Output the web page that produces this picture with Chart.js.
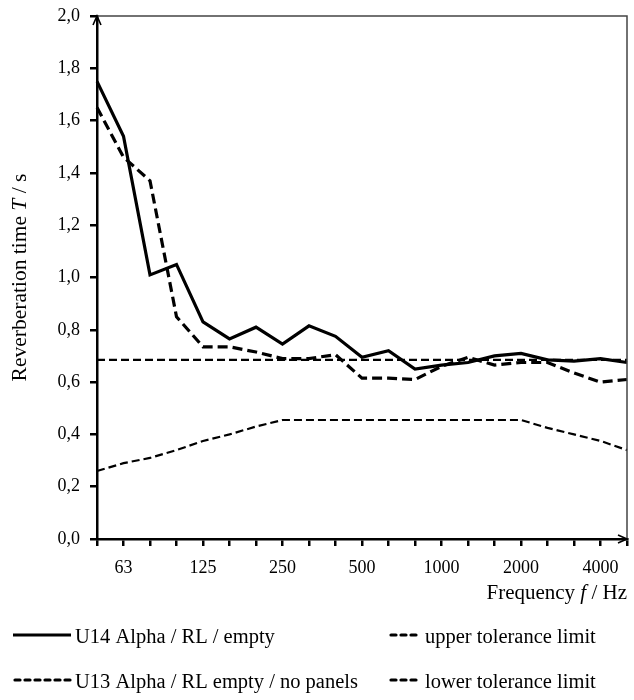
<!DOCTYPE html>
<html>
<head>
<meta charset="utf-8">
<script src="https://cdn.jsdelivr.net/npm/chart.js@4"></script>
<style>
  body { margin: 0; background: #fff; }
  #chart { display: block; }
</style>
</head>
<body>
<canvas id="chart" width="634" height="700"></canvas>
<script>
// third-octave bands, Hz
const freqBands = ['50', '63', '80', '100', '125', '160', '200', '250', '315', '400', '500',
  '630', '800', '1000', '1250', '1600', '2000', '2500', '3150', '4000', '5000'];
// only octave bands get a label
const shownTicks = ['63', '125', '250', '500', '1000', '2000', '4000'];

const u14Empty = [1.75, 1.54, 1.01, 1.05, 0.83, 0.765, 0.81, 0.745, 0.815, 0.775, 0.695,
  0.72, 0.65, 0.665, 0.675, 0.70, 0.71, 0.685, 0.68, 0.69, 0.675];
const u13NoPanels = [1.65, 1.46, 1.37, 0.85, 0.735, 0.735, 0.715, 0.69, 0.69, 0.705, 0.615,
  0.615, 0.61, 0.66, 0.695, 0.665, 0.675, 0.675, 0.635, 0.60, 0.61];
const upperLimit = [0.685, 0.685, 0.685, 0.685, 0.685, 0.685, 0.685, 0.685, 0.685, 0.685, 0.685,
  0.685, 0.685, 0.685, 0.685, 0.685, 0.685, 0.685, 0.685, 0.685, 0.685];
const lowerLimit = [0.26, 0.29, 0.31, 0.34, 0.375, 0.40, 0.43, 0.455, 0.455, 0.455, 0.455,
  0.455, 0.455, 0.455, 0.455, 0.455, 0.455, 0.425, 0.40, 0.375, 0.34];

const FONT = "'Liberation Serif', 'Times New Roman', serif";

// draws text made of normal / italic pieces
function drawRich(ctx, parts, x, y, size, align) {
  let total = 0;
  parts.forEach(p => {
    ctx.font = (p.i ? 'italic ' : '') + size + 'px ' + FONT;
    total += ctx.measureText(p.t).width;
  });
  let cx = align === 'right' ? x - total : align === 'center' ? x - total / 2 : x;
  ctx.textAlign = 'left';
  parts.forEach(p => {
    ctx.font = (p.i ? 'italic ' : '') + size + 'px ' + FONT;
    ctx.fillText(p.t, cx, y);
    cx += ctx.measureText(p.t).width;
  });
}

function legendItem(ctx, x1, x2, y, dash, text, tx) {
  ctx.save();
  ctx.strokeStyle = '#000';
  ctx.lineWidth = 3.2;
  ctx.lineCap = dash.length ? 'round' : 'butt';
  ctx.setLineDash(dash);
  ctx.beginPath();
  ctx.moveTo(x1, y);
  ctx.lineTo(x2, y);
  ctx.stroke();
  ctx.restore();
  ctx.fillStyle = '#000';
  ctx.textBaseline = 'alphabetic';
  ctx.font = '20.5px ' + FONT;
  ctx.fillText(text, tx, y + 8);
}

const decor = {
  id: 'decor',
  afterDraw(chart) {
    const { ctx, chartArea: a } = chart;
    ctx.save();

    // thin frame on top and right
    ctx.strokeStyle = '#444';
    ctx.lineWidth = 1.5;
    ctx.beginPath();
    ctx.moveTo(a.left, a.top);
    ctx.lineTo(a.right, a.top);
    ctx.lineTo(a.right, a.bottom);
    ctx.stroke();

    // arrow heads on the axes
    ctx.strokeStyle = '#000';
    ctx.lineWidth = 1.6;
    ctx.beginPath();
    ctx.moveTo(a.left - 4, a.top + 9);
    ctx.lineTo(a.left, a.top);
    ctx.lineTo(a.left + 4, a.top + 9);
    ctx.moveTo(a.right - 9, a.bottom - 4);
    ctx.lineTo(a.right, a.bottom);
    ctx.lineTo(a.right - 9, a.bottom + 4);
    ctx.stroke();

    ctx.fillStyle = '#000';
    ctx.textBaseline = 'middle';

    // y title
    ctx.save();
    ctx.translate(20, (a.top + a.bottom) / 2);
    ctx.rotate(-Math.PI / 2);
    drawRich(ctx, [{ t: 'Reverberation time ' }, { t: 'T', i: true }, { t: ' / s' }], 0, 0, 21.5, 'center');
    ctx.restore();

    // x title
    ctx.textBaseline = 'alphabetic';
    drawRich(ctx, [{ t: 'Frequency ' }, { t: 'f', i: true }, { t: ' / Hz' }], a.right, 599, 21, 'right');

    // legend
    legendItem(ctx, 13, 71, 635, [], 'U14 Alpha / RL / empty', 75);
    legendItem(ctx, 15, 71, 680, [5, 5], 'U13 Alpha / RL empty / no panels', 75);
    legendItem(ctx, 391, 421, 635, [5, 5], 'upper tolerance limit', 425);
    legendItem(ctx, 391, 421, 680, [5, 5], 'lower tolerance limit', 425);

    ctx.restore();
  }
};

new Chart(document.getElementById('chart'), {
  type: 'line',
  data: {
    labels: freqBands,
    datasets: [
      {
        label: 'U14 Alpha / RL / empty',
        data: u14Empty,
        borderColor: '#000',
        borderWidth: 3.2
      },
      {
        label: 'U13 Alpha / RL empty / no panels',
        data: u13NoPanels,
        borderColor: '#000',
        borderWidth: 3.2,
        borderDash: [10, 5]
      },
      {
        label: 'upper tolerance limit',
        data: upperLimit,
        borderColor: '#000',
        borderWidth: 2.2,
        borderDash: [8, 4]
      },
      {
        label: 'lower tolerance limit',
        data: lowerLimit,
        borderColor: '#000',
        borderWidth: 2.2,
        borderDash: [8, 4]
      }
    ]
  },
  options: {
    responsive: false,
    animation: false,
    elements: {
      point: { radius: 0 },
      line: { tension: 0, fill: false }
    },
    layout: { padding: { top: 16, right: 7, left: 0, bottom: 0 } },
    plugins: {
      legend: { display: false },
      tooltip: { enabled: false }
    },
    scales: {
      x: {
        offset: false,
        border: { color: '#000', width: 2.5 },
        grid: { drawOnChartArea: false, color: '#000', lineWidth: 2.5, tickLength: 7 },
        ticks: {
          autoSkip: false,
          maxRotation: 0,
          padding: 11,
          color: '#000',
          font: { family: FONT, size: 18 },
          callback: function (v) {
            const lab = this.getLabelForValue(v);
            return shownTicks.includes(lab) ? lab : '';
          }
        },
        afterFit: s => {
          s.height = 161;
          s.paddingLeft = 0;
          s.paddingRight = 0;
        }
      },
      y: {
        min: 0,
        max: 2,
        border: { color: '#000', width: 2.5 },
        grid: { drawOnChartArea: false, color: '#000', lineWidth: 2.5, tickLength: 7 },
        ticks: {
          stepSize: 0.2,
          padding: 10,
          color: '#000',
          font: { family: FONT, size: 18 },
          callback: v => v.toFixed(1).replace('.', ',')
        },
        afterFit: s => {
          s.width = 97;
          s.paddingTop = 0;
          s.paddingBottom = 0;
        }
      }
    }
  },
  plugins: [decor]
});
</script>
</body>
</html>
